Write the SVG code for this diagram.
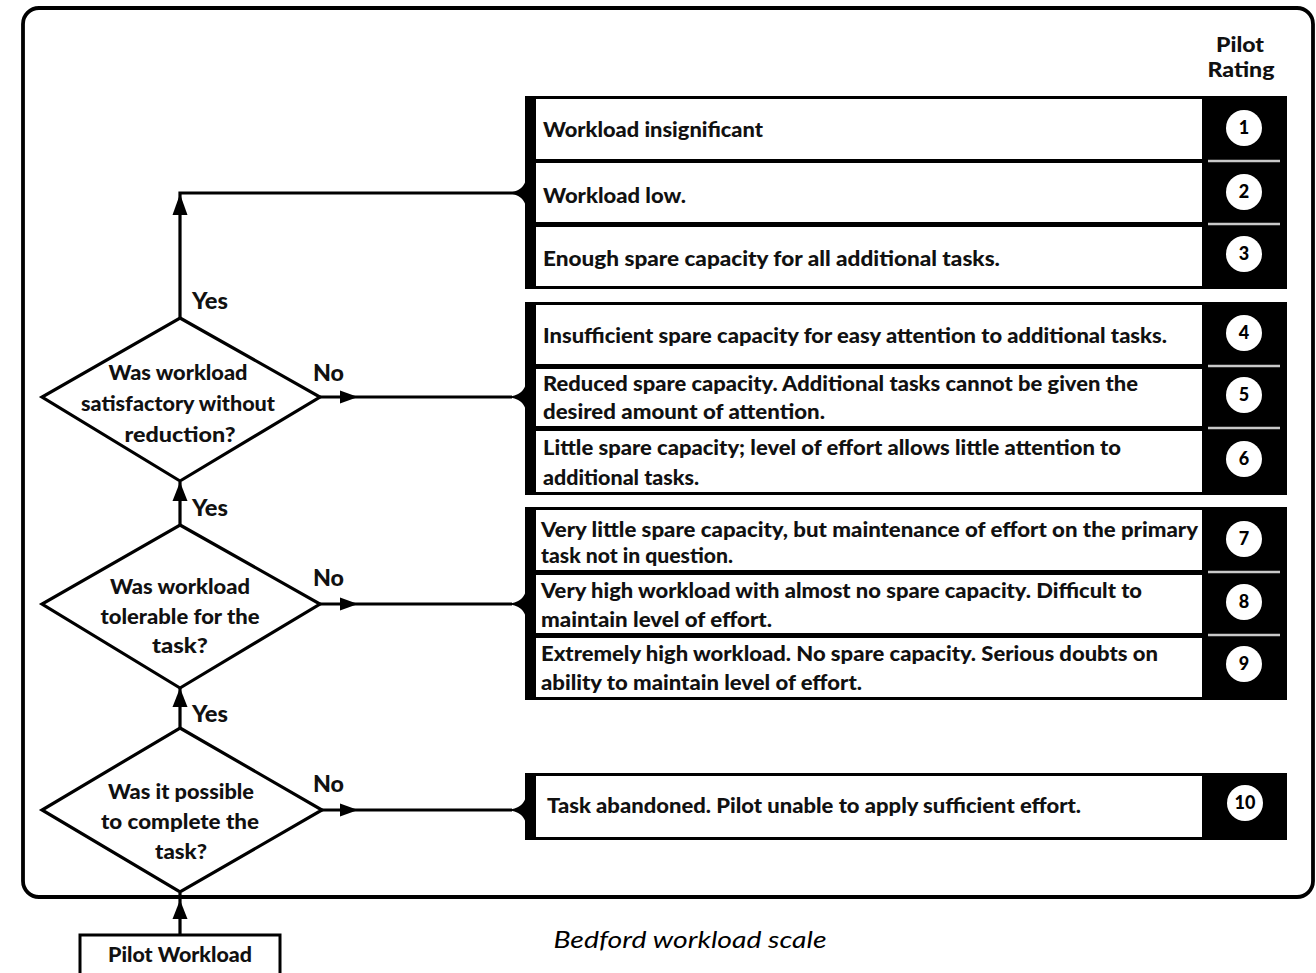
<svg xmlns="http://www.w3.org/2000/svg" width="1316" height="973" viewBox="0 0 1316 973">
<style>
.t{font-family:Lato,"Open Sans","Liberation Sans",sans-serif;font-weight:900;font-size:20px;fill:#111}
.c{text-anchor:middle}
.lbl{font-family:Lato,"Open Sans","Liberation Sans",sans-serif;font-weight:900;font-size:22px;fill:#111}
.num{font-family:Lato,"Open Sans","Liberation Sans",sans-serif;font-weight:900;font-size:18px;fill:#000;text-anchor:middle}
.ln{stroke:#000;stroke-width:3.2;fill:none}
.dia{fill:#fff;stroke:#000;stroke-width:3.2}
.sep{stroke:#c8c8c8;stroke-width:2.5}
.wbox{fill:#fff}
.circ{fill:#fff}
</style>
<rect x="0" y="0" width="1316" height="973" fill="#fff"/>
<rect id="frame" x="23" y="8" width="1290" height="889" rx="16" fill="none" stroke="#000" stroke-width="3.8"/>

<g id="header">
<text class="t c" x="1240" y="52" textLength="48" lengthAdjust="spacingAndGlyphs">Pilot</text>
<text class="t c" x="1241" y="77" textLength="67" lengthAdjust="spacingAndGlyphs">Rating</text>
</g>

<g id="connectors">
<path class="ln" d="M180,318 V193 H516"/>
<polygon points="180,194 172.5,215 187.5,215"/>
<path class="ln" d="M320,397 H512"/>
<polygon points="358,397 340,390.5 340,403.5"/>
<path class="ln" d="M180,525 V482"/>
<polygon points="180,482 172.5,501 187.5,501"/>
<path class="ln" d="M320,604 H512"/>
<polygon points="358,604 340,597.5 340,610.5"/>
<path class="ln" d="M180,728 V688"/>
<polygon points="180,688 172.5,707 187.5,707"/>
<path class="ln" d="M320,810 H512"/>
<polygon points="358,810 340,803.5 340,816.5"/>
<path class="ln" d="M180,935 V893"/>
<polygon points="180,900 172.5,919 187.5,919"/>
</g>

<g id="decision1">
<polygon class="dia" points="180,318 320,397 180,481 42,397"/>
<text class="t c" x="178" y="380" textLength="139" lengthAdjust="spacingAndGlyphs">Was workload</text>
<text class="t c" x="178" y="411" textLength="194" lengthAdjust="spacingAndGlyphs">satisfactory without</text>
<text class="t c" x="180" y="442" textLength="111" lengthAdjust="spacingAndGlyphs">reduction?</text>
</g>
<g id="decision2">
<polygon class="dia" points="180,525 320,604 180,688 42,604"/>
<text class="t c" x="180" y="594" textLength="140" lengthAdjust="spacingAndGlyphs">Was workload</text>
<text class="t c" x="180" y="624" textLength="159" lengthAdjust="spacingAndGlyphs">tolerable for the</text>
<text class="t c" x="180" y="653" textLength="56" lengthAdjust="spacingAndGlyphs">task?</text>
</g>
<g id="decision3">
<polygon class="dia" points="180,728 322,810 180,892 42,810"/>
<text class="t c" x="181" y="799" textLength="146" lengthAdjust="spacingAndGlyphs">Was it possible</text>
<text class="t c" x="180" y="829" textLength="158" lengthAdjust="spacingAndGlyphs">to complete the</text>
<text class="t c" x="181" y="859" textLength="52" lengthAdjust="spacingAndGlyphs">task?</text>
</g>

<g id="labels">
<text class="lbl" x="192" y="309" textLength="36" lengthAdjust="spacingAndGlyphs">Yes</text>
<text class="lbl" x="313" y="381" textLength="31" lengthAdjust="spacingAndGlyphs">No</text>
<text class="lbl" x="192" y="516" textLength="36" lengthAdjust="spacingAndGlyphs">Yes</text>
<text class="lbl" x="313" y="586" textLength="31" lengthAdjust="spacingAndGlyphs">No</text>
<text class="lbl" x="192" y="722" textLength="36" lengthAdjust="spacingAndGlyphs">Yes</text>
<text class="lbl" x="313" y="792" textLength="31" lengthAdjust="spacingAndGlyphs">No</text>
</g>

<g id="start">
<rect x="80" y="935" width="200" height="50" fill="#fff" stroke="#000" stroke-width="3"/>
<text class="t c" x="180" y="962" textLength="144" lengthAdjust="spacingAndGlyphs">Pilot Workload</text>
</g>

<g id="group1">
<rect x="525" y="96" width="762" height="193" fill="#000"/>
<path d="M527,170 C527,186 521,191 508,193 C521,195 527,200 527,216 Z" fill="#000"/>
<rect class="wbox" x="536" y="99" width="666" height="60"/>
<rect class="wbox" x="536" y="163" width="666" height="59"/>
<rect class="wbox" x="536" y="227" width="666" height="59"/>
<line class="sep" x1="1208" y1="161" x2="1280" y2="161"/>
<line class="sep" x1="1208" y1="224" x2="1280" y2="224"/>
<circle class="circ" cx="1244" cy="128" r="18"/><text class="num" x="1244" y="134">1</text>
<circle class="circ" cx="1244" cy="192" r="18"/><text class="num" x="1244" y="198">2</text>
<circle class="circ" cx="1244" cy="254" r="18"/><text class="num" x="1244" y="260">3</text>
<text class="t" x="543" y="137" textLength="220" lengthAdjust="spacingAndGlyphs">Workload insignificant</text>
<text class="t" x="543" y="203" textLength="143" lengthAdjust="spacingAndGlyphs">Workload low.</text>
<text class="t" x="543" y="266" textLength="457" lengthAdjust="spacingAndGlyphs">Enough spare capacity for all additional tasks.</text>
</g>

<g id="group2">
<rect x="525" y="302" width="762" height="193" fill="#000"/>
<path d="M527,374 C527,390 521,395 508,397 C521,399 527,404 527,420 Z" fill="#000"/>
<rect class="wbox" x="536" y="305" width="666" height="59"/>
<rect class="wbox" x="536" y="369" width="666" height="57"/>
<rect class="wbox" x="536" y="431" width="666" height="61"/>
<line class="sep" x1="1208" y1="366" x2="1280" y2="366"/>
<line class="sep" x1="1208" y1="428" x2="1280" y2="428"/>
<circle class="circ" cx="1244" cy="333" r="18"/><text class="num" x="1244" y="339">4</text>
<circle class="circ" cx="1244" cy="395" r="18"/><text class="num" x="1244" y="401">5</text>
<circle class="circ" cx="1244" cy="459" r="18"/><text class="num" x="1244" y="465">6</text>
<text class="t" x="543" y="343" textLength="624" lengthAdjust="spacingAndGlyphs">Insufficient spare capacity for easy attention to additional tasks.</text>
<text class="t" x="543" y="391" textLength="595" lengthAdjust="spacingAndGlyphs">Reduced spare capacity. Additional tasks cannot be given the</text>
<text class="t" x="543" y="419" textLength="282" lengthAdjust="spacingAndGlyphs">desired amount of attention.</text>
<text class="t" x="543" y="455" textLength="578" lengthAdjust="spacingAndGlyphs">Little spare capacity; level of effort allows little attention to</text>
<text class="t" x="543" y="485" textLength="156" lengthAdjust="spacingAndGlyphs">additional tasks.</text>
</g>

<g id="group3">
<rect x="525" y="507" width="762" height="193" fill="#000"/>
<path d="M527,581 C527,597 521,602 508,604 C521,606 527,611 527,627 Z" fill="#000"/>
<rect class="wbox" x="536" y="510" width="666" height="60"/>
<rect class="wbox" x="536" y="575" width="666" height="58"/>
<rect class="wbox" x="536" y="638" width="666" height="59"/>
<line class="sep" x1="1208" y1="572" x2="1280" y2="572"/>
<line class="sep" x1="1208" y1="635" x2="1280" y2="635"/>
<circle class="circ" cx="1244" cy="539" r="18"/><text class="num" x="1244" y="545">7</text>
<circle class="circ" cx="1244" cy="602" r="18"/><text class="num" x="1244" y="608">8</text>
<circle class="circ" cx="1244" cy="664" r="18"/><text class="num" x="1244" y="670">9</text>
<text class="t" x="541" y="537" textLength="657" lengthAdjust="spacingAndGlyphs">Very little spare capacity, but maintenance of effort on the primary</text>
<text class="t" x="541" y="563" textLength="192" lengthAdjust="spacingAndGlyphs">task not in question.</text>
<text class="t" x="541" y="598" textLength="601" lengthAdjust="spacingAndGlyphs">Very high workload with almost no spare capacity. Difficult to</text>
<text class="t" x="541" y="627" textLength="231" lengthAdjust="spacingAndGlyphs">maintain level of effort.</text>
<text class="t" x="541" y="661" textLength="617" lengthAdjust="spacingAndGlyphs">Extremely high workload. No spare capacity. Serious doubts on</text>
<text class="t" x="541" y="690" textLength="321" lengthAdjust="spacingAndGlyphs">ability to maintain level of effort.</text>
</g>

<g id="group4">
<rect x="525" y="773" width="762" height="67" fill="#000"/>
<path d="M527,787 C527,803 521,808 508,810 C521,812 527,817 527,833 Z" fill="#000"/>
<rect class="wbox" x="536" y="776" width="666" height="61"/>
<circle class="circ" cx="1245" cy="803" r="18"/><text class="num" x="1245" y="809">10</text>
<text class="t" x="547" y="813" textLength="534" lengthAdjust="spacingAndGlyphs">Task abandoned. Pilot unable to apply sufficient effort.</text>
</g>

<text id="caption" x="690" y="948" text-anchor="middle" font-family="Lato,'Open Sans','Liberation Sans',sans-serif" font-style="italic" font-size="24" fill="#000" textLength="273" lengthAdjust="spacingAndGlyphs">Bedford workload scale</text>
</svg>
